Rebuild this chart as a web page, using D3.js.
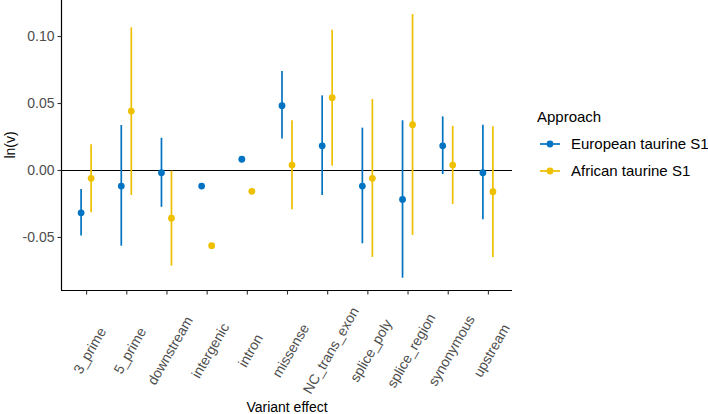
<!DOCTYPE html>
<html>
<head>
<meta charset="utf-8">
<script src="https://cdn.jsdelivr.net/npm/d3@7"></script>
<style>
  html, body { margin: 0; padding: 0; background: #fff; }
  svg { display: block; font-family: "Liberation Sans", Arial, sans-serif; }
</style>
</head>
<body>
<svg id="chart" width="708" height="414"></svg>
<script>
const categories = ["3_prime","5_prime","downstream","intergenic","intron","missense","NC_trans_exon","splice_poly","splice_region","synonymous","upstream"];
const seriesNames = ["European taurine S1","African taurine S1"];
const euroValue = [-0.032,-0.012,-0.002,-0.012,0.008,0.048,0.018,-0.012,-0.022,0.018,-0.002];
const euroLow   = [-0.049,-0.0565,-0.0275,null,null,0.0235,-0.0187,-0.0547,-0.0804,-0.003,-0.0368];
const euroHigh  = [-0.0142,0.0336,0.0241,null,null,0.0739,0.0557,0.0316,0.0371,0.040,0.0338];
const afrValue  = [-0.0062,0.044,-0.036,-0.0565,-0.0159,0.0037,0.054,-0.0062,0.0338,0.0037,-0.0162];
const afrLow    = [-0.0316,-0.0187,-0.0714,null,null,-0.0293,0.0032,-0.0649,-0.0485,-0.0254,-0.0649];
const afrHigh   = [0.0192,0.1065,-0.0005,null,null,0.0371,0.1047,0.053,0.1164,0.033,0.0326];
const yTicks = [-0.05, 0.00, 0.05, 0.10];
const colors = ["#0073C2", "#EFC000"];

const series = [
  {name: seriesNames[0], color: colors[0], offset: -5, v: euroValue, lo: euroLow, hi: euroHigh},
  {name: seriesNames[1], color: colors[1], offset: 5, v: afrValue, lo: afrLow, hi: afrHigh}
];

const svg = d3.select("#chart");
const pLeft = 62, pRight = 512, pTop = 0, pBottom = 290;

const x = d3.scalePoint().domain(categories).range([pLeft, pRight]).padding(0.6);
const y = d3.scaleLinear().domain([-0.0896, 0.1269]).range([pBottom, pTop]);

// zero line
svg.append("line")
  .attr("x1", pLeft).attr("x2", pRight)
  .attr("y1", Math.round(y(0)) + 0.5).attr("y2", Math.round(y(0)) + 0.5)
  .attr("stroke", "#000").attr("stroke-width", 1.2);

// marks
series.forEach(s => {
  const g = svg.append("g");
  categories.forEach((c, i) => {
    const cx = x(c) + s.offset;
    if (s.lo[i] !== null && s.hi[i] !== null) {
      g.append("line")
        .attr("x1", cx).attr("x2", cx)
        .attr("y1", y(s.lo[i])).attr("y2", y(s.hi[i]))
        .attr("stroke", s.color).attr("stroke-width", 1.7);
    }
    g.append("circle")
      .attr("cx", cx).attr("cy", y(s.v[i])).attr("r", 3.4)
      .attr("fill", s.color);
  });
});

// y axis
const fmt = d3.format(".2f");
const yAxis = svg.append("g")
  .attr("transform", `translate(${pLeft - 0.5},0)`)
  .call(d3.axisLeft(y).tickValues(yTicks).tickFormat(d => d < 0 ? "-" + fmt(-d) : fmt(d)).tickSizeOuter(0).tickSize(4).tickPadding(3));
yAxis.select(".domain").attr("stroke", "#000").attr("stroke-width", 1.2)
  .attr("d", `M0,${pTop}V${pBottom}`);
yAxis.selectAll(".tick line").attr("stroke", "#333").attr("stroke-width", 1.1);
yAxis.selectAll(".tick text").attr("font-size", 14).attr("fill", "#4D4D4D")
  .style("font-family", "'Liberation Sans', Arial, sans-serif");

// x axis
const xAxis = svg.append("g")
  .attr("transform", `translate(0,${pBottom + 0.5})`)
  .call(d3.axisBottom(x).tickSizeOuter(0).tickSize(4));
xAxis.select(".domain").attr("stroke", "#000").attr("stroke-width", 1.2)
  .attr("d", `M${pLeft - 1},0H${pRight}`);
xAxis.selectAll(".tick line").attr("stroke", "#333").attr("stroke-width", 1.1);
xAxis.selectAll(".tick text")
  .attr("font-size", 14).attr("fill", "#4D4D4D")
  .style("font-family", "'Liberation Sans', Arial, sans-serif")
  .attr("text-anchor", "middle")
  .attr("dominant-baseline", "central")
  .attr("dy", null)
  .attr("y", null)
  .attr("transform", "translate(3,60) rotate(-60)");

// axis titles
svg.append("text")
  .attr("x", (pLeft + pRight) / 2).attr("y", 412)
  .attr("text-anchor", "middle").attr("font-size", 14).attr("fill", "#000")
  .text("Variant effect");
svg.append("text")
  .attr("transform", `translate(15,${(pTop + pBottom) / 2}) rotate(-90)`)
  .attr("text-anchor", "middle").attr("font-size", 14).attr("fill", "#000")
  .text("ln(v)");

// legend
const lg = svg.append("g");
lg.append("text").attr("x", 537).attr("y", 122).attr("font-size", 15).attr("fill", "#000").text("Approach");
series.forEach((s, i) => {
  const cy = 144 + i * 27;
  lg.append("line").attr("x1", 540).attr("x2", 560).attr("y1", cy).attr("y2", cy)
    .attr("stroke", s.color).attr("stroke-width", 1.7);
  lg.append("circle").attr("cx", 550).attr("cy", cy).attr("r", 3.4).attr("fill", s.color);
  lg.append("text").attr("x", 571).attr("y", cy).attr("dy", "0.36em")
    .attr("font-size", 15).attr("fill", "#000").text(s.name);
});
</script>
</body>
</html>
